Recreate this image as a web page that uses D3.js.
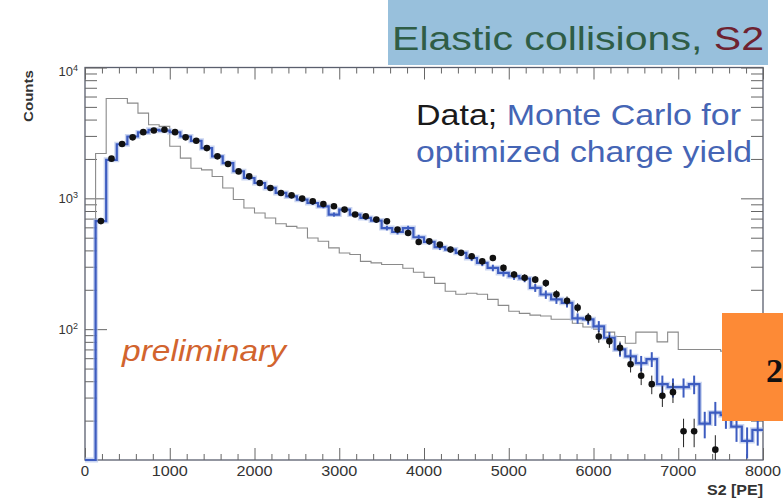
<!DOCTYPE html>
<html><head><meta charset="utf-8">
<script src="https://cdn.jsdelivr.net/npm/d3@7"></script>
<style>
body{margin:0;background:#fff;}
svg{display:block;font-family:"Liberation Sans",Arial,Helvetica,sans-serif;}
</style>
</head><body>
<svg id="chart" width="783" height="498"></svg>
<script>
// ---------- data (bin width 125 PE, 64 bins from 0 to 8000) ----------
const binWidth = 125;
const mcCounts = [0, 670, 1970, 2590, 2970, 3190, 3340, 3290, 3200, 2970,
  2750, 2420, 2090, 1860, 1610, 1430, 1310, 1200, 1100, 1035,
  977, 921, 869, 752, 820, 752, 708, 676, 593, 553,
  593, 504, 464, 423, 406, 383, 350, 321, 294, 269,
  254, 244, 207, 184, 169, 159, 121, 119, 105, 86,
  70, 62, 55, 59, 38, 36, 36, 38, 19, 23,
  22, 18, 14, 17];
const refCounts = [0, 2200, 5800, 5800, 5340, 4480, 3650, 3550, 2500, 2030,
  1700, 1650, 1470, 1200, 980, 843, 773, 708, 639, 611,
  593, 498, 470, 418, 382, 372, 330, 321, 312, 312,
  292, 272, 249, 224, 195, 185, 188, 185, 169, 152,
  137, 132, 128, 126, 119, 119, 111, 104, 100, 95,
  88, 78, 95, 95, 80, 95, 70, 70, 70, 70,
  68, 68, 67, 67];
const dataCounts = [null, 670, 2010, 2600, 2925, 3206, 3304, 3344, 3206, 2925,
  2754, 2420, 2093, 1830, 1607, 1472, 1310, 1200, 1097, 1054,
  995, 948, 905, 869, 820, 752, 730, 688, 667, 577,
  543, 464, 469, 443, 406, 383, 361, 330, 350, 294,
  262, 247, 239, 225, 185, 165, 146, 122, 88, 81,
  72, 54, 44, 38, 31, 33, 16.6, 16.6, null, 12,
  null, null, null, null];
const xMajorTicks = [0, 1000, 2000, 3000, 4000, 5000, 6000, 7000, 8000];
const xTickLabels = ["0", "1000", "2000", "3000", "4000", "5000", "6000", "7000", "8000"];
const yMajorTicks = [100, 1000, 10000];
const yTickExponents = ["2", "3", "4"];
const yMinorTicks = [20,30,40,50,60,70,80,90,200,300,400,500,600,700,800,900,2000,3000,4000,5000,6000,7000,8000,9000];

// ---------- layout ----------
const svg = d3.select("#chart");
const L = 85, R = 763, T = 67.5, B = 460;
const x = d3.scaleLinear().domain([0, 8000]).range([L, R]);
const y = d3.scaleLog().domain([10, 10000]).range([B, T]);
const yc = v => (v == null || v <= 10) ? B : Math.max(T, y(v));

// frame
svg.append("rect").attr("x", L).attr("y", T).attr("width", R - L).attr("height", B - T)
  .attr("fill", "none").attr("stroke", "#5a5f6e").attr("stroke-width", 1.3);

// axes ticks (inward, ROOT style)
const xMinor = d3.range(0, 8001, 200).filter(v => v % 1000 !== 0);
function tickAxis(axisFn, scale, vals, size, transform) {
  svg.append("g").attr("transform", transform)
    .call(axisFn(scale).tickValues(vals).tickSize(size).tickFormat(""))
    .call(g => g.select(".domain").remove())
    .call(g => g.selectAll("line").attr("stroke", "#666").attr("stroke-width", 1));
}
tickAxis(d3.axisBottom, x, xMajorTicks, -12, `translate(0,${B})`);
tickAxis(d3.axisBottom, x, xMinor, -6, `translate(0,${B})`);
tickAxis(d3.axisTop, x, xMajorTicks, -12, `translate(0,${T})`);
tickAxis(d3.axisTop, x, xMinor, -6, `translate(0,${T})`);
tickAxis(d3.axisLeft, y, yMajorTicks, -22, `translate(${L},0)`);
tickAxis(d3.axisLeft, y, yMinorTicks, -12, `translate(${L},0)`);
tickAxis(d3.axisRight, y, yMajorTicks, -22, `translate(${R},0)`);
tickAxis(d3.axisRight, y, yMinorTicks, -12, `translate(${R},0)`);

// tick labels
svg.append("g").selectAll("text").data(xMajorTicks).join("text")
  .attr("x", d => x(d)).attr("y", 476).attr("text-anchor", "middle")
  .attr("font-size", 15).attr("fill", "#333")
  .attr("textLength", (d, i) => xTickLabels[i].length === 1 ? null : 36)
  .attr("lengthAdjust", "spacingAndGlyphs")
  .text((d, i) => xTickLabels[i]);
const yl = svg.append("g").selectAll("text").data(yMajorTicks).join("text")
  .attr("x", 78).attr("y", (d) => y(d) + 5 + (d === 10000 ? 3 : 0)).attr("text-anchor", "end")
  .attr("font-size", 13).attr("fill", "#333");
yl.append("tspan").text("10");
yl.append("tspan").attr("dy", -5).attr("font-size", 9).text((d, i) => yTickExponents[i]);

// axis titles
svg.append("text").attr("transform", "translate(33,70) rotate(-90)")
  .attr("text-anchor", "end").attr("font-size", 12).attr("font-weight", "bold").attr("fill", "#333")
  .attr("textLength", 52).attr("lengthAdjust", "spacingAndGlyphs").text("Counts");
svg.append("text").attr("x", 763).attr("y", 495).attr("text-anchor", "end")
  .attr("font-size", 15).attr("font-weight", "bold").attr("fill", "#333")
  .attr("textLength", 56).attr("lengthAdjust", "spacingAndGlyphs").text("S2 [PE]");

// histogram step path
function stepPath(counts) {
  const p = d3.path();
  counts.forEach((c, i) => {
    const x0 = x(i * binWidth), x1 = x((i + 1) * binWidth);
    if (i === 0) p.moveTo(x0, yc(c)); else p.lineTo(x0, yc(c));
    p.lineTo(x1, yc(c));
  });
  return p.toString();
}
const plot = svg.append("g");
plot.append("path").attr("d", stepPath(refCounts)).attr("fill", "none")
  .attr("stroke", "#8a8a8a").attr("stroke-width", 1.1);
plot.append("path").attr("d", stepPath(mcCounts)).attr("fill", "none")
  .attr("stroke", "#a9bbe8").attr("stroke-width", 5).attr("opacity", 0.6);
// MC error bars
plot.append("g").selectAll("line").data(mcCounts.map((c, i) => ({c, i})).filter(d => d.c > 0))
  .join("line")
  .attr("x1", d => x((d.i + 0.5) * binWidth)).attr("x2", d => x((d.i + 0.5) * binWidth))
  .attr("y1", d => yc(d.c + Math.sqrt(d.c))).attr("y2", d => yc(d.c - Math.sqrt(d.c)))
  .attr("stroke", "#3d5cc0").attr("stroke-width", 2);
plot.append("path").attr("d", stepPath(mcCounts)).attr("fill", "none")
  .attr("stroke", "#3d5cc0").attr("stroke-width", 2.2);

// data points
const pts = dataCounts.map((c, i) => ({c, i})).filter(d => d.c != null);
plot.append("g").selectAll("line").data(pts).join("line")
  .attr("x1", d => x((d.i + 0.5) * binWidth)).attr("x2", d => x((d.i + 0.5) * binWidth))
  .attr("y1", d => yc(d.c + Math.sqrt(d.c))).attr("y2", d => yc(d.c - Math.sqrt(d.c)))
  .attr("stroke", "#222").attr("stroke-width", 1);
plot.append("g").selectAll("circle").data(pts).join("circle")
  .attr("cx", d => x((d.i + 0.5) * binWidth)).attr("cy", d => yc(d.c)).attr("r", 3.3)
  .attr("fill", "#111");

// annotations
svg.append("rect").attr("x", 388).attr("y", 0).attr("width", 380).attr("height", 65).attr("fill", "#98c0dc");
const title = svg.append("text").attr("x", 392).attr("y", 50).attr("font-size", 33)
  .attr("textLength", 372).attr("lengthAdjust", "spacingAndGlyphs");
title.append("tspan").attr("fill", "#2f5d46").text("Elastic collisions, ");
title.append("tspan").attr("fill", "#6e2230").text("S2");

const l1 = svg.append("text").attr("x", 416).attr("y", 125).attr("font-size", 29)
  .attr("textLength", 325).attr("lengthAdjust", "spacingAndGlyphs");
l1.append("tspan").attr("fill", "#1a1a1a").text("Data; ");
l1.append("tspan").attr("fill", "#4565b5").text("Monte Carlo for");
svg.append("text").attr("x", 416).attr("y", 162).attr("font-size", 29).attr("fill", "#4565b5")
  .attr("textLength", 336).attr("lengthAdjust", "spacingAndGlyphs").text("optimized charge yield");

svg.append("text").attr("x", 122).attr("y", 361).attr("font-size", 29).attr("font-style", "italic")
  .attr("fill", "#d2642e").attr("textLength", 164).attr("lengthAdjust", "spacingAndGlyphs").text("preliminary");

svg.append("rect").attr("x", 722).attr("y", 313).attr("width", 61).attr("height", 108).attr("fill", "#fd8a36");
svg.append("text").attr("x", 766).attr("y", 382).attr("font-size", 34).attr("font-weight", "bold")
  .attr("font-family", "'Liberation Serif','Times New Roman',serif").attr("fill", "#111").text("2");
</script>
</body></html>
